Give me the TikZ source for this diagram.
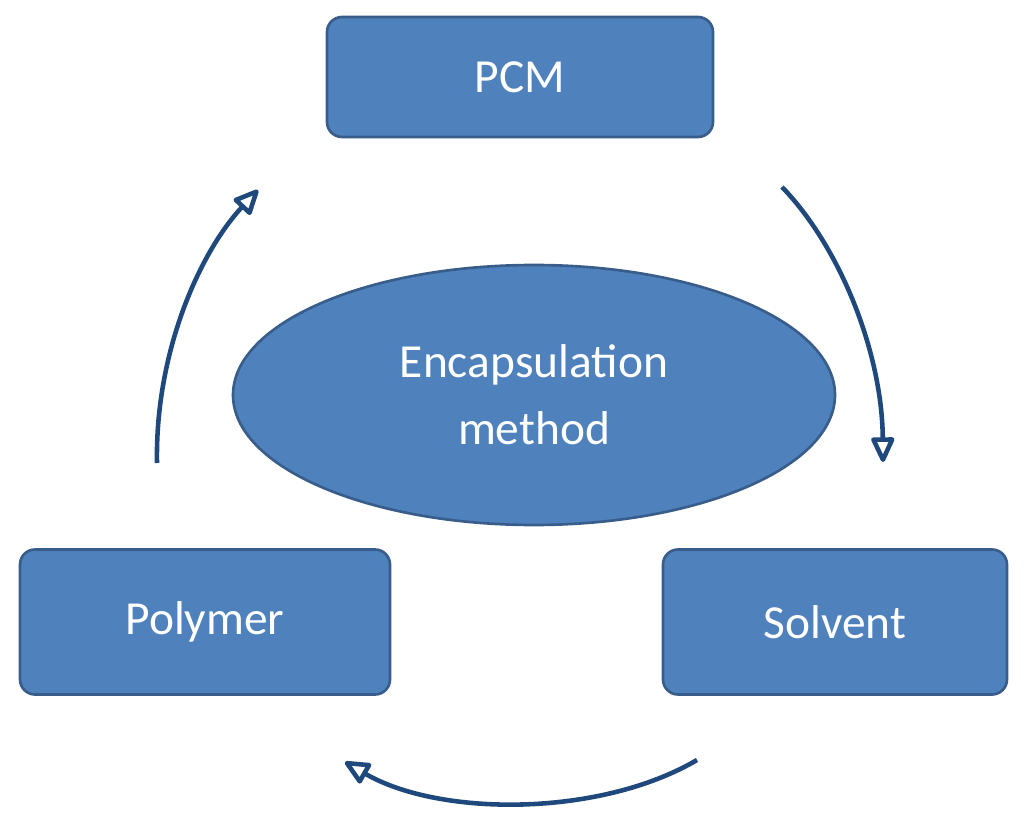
\documentclass[tikz,border=0pt]{standalone}
\usepackage{fontspec}
\setmainfont{Carlito}
\usetikzlibrary{shapes.geometric,arrows.meta}
\definecolor{fillb}{HTML}{4F81BD}
\definecolor{edgeb}{HTML}{385D8A}
\definecolor{arr}{HTML}{1F497D}
\begin{document}
\begin{tikzpicture}[x=0.02cm,y=0.02cm,
 box/.style={draw=edgeb,line width=1.5pt,fill=fillb,rounded corners=0.3cm,text=white,font=\fontsize{27}{32}\selectfont,inner sep=0pt},
 conn/.style={draw=arr,line width=2.6pt,-{Stealth[length=16pt,width=14pt,inset=0pt,open,round]}}]
\useasboundingbox (0,0) rectangle (1024,832);
\node[box,minimum width=386*0.02cm,minimum height=120*0.02cm] (pcm) at (520,755) {PCM};
\node[box,minimum width=370*0.02cm,minimum height=145*0.02cm] (poly) at (205,210) {Polymer};
\node[box,minimum width=344*0.02cm,minimum height=145*0.02cm] (solv) at (835,210) {Solvent};
\node[ellipse,draw=edgeb,line width=1.5pt,fill=fillb,text=white,font=\fontsize{27}{38}\selectfont,align=center,minimum width=602*0.02cm,minimum height=260*0.02cm,inner sep=0pt] (enc) at (534,437) {Encapsulation\\method};
\coordinate (a1) at (782,645); \coordinate (b1) at (883,370);
\coordinate (a2) at (697,72); \coordinate (b2) at (345,70);
\coordinate (a3) at (157,369); \coordinate (b3) at (258,642);
\draw[conn] (a1) .. controls (840,585) and (882,480) .. (b1);
\draw[conn] (a2) .. controls (600,15) and (440,15) .. (b2);
\draw[conn] (a3) .. controls (155,480) and (200,580) .. (b3);
\end{tikzpicture}
\end{document}
